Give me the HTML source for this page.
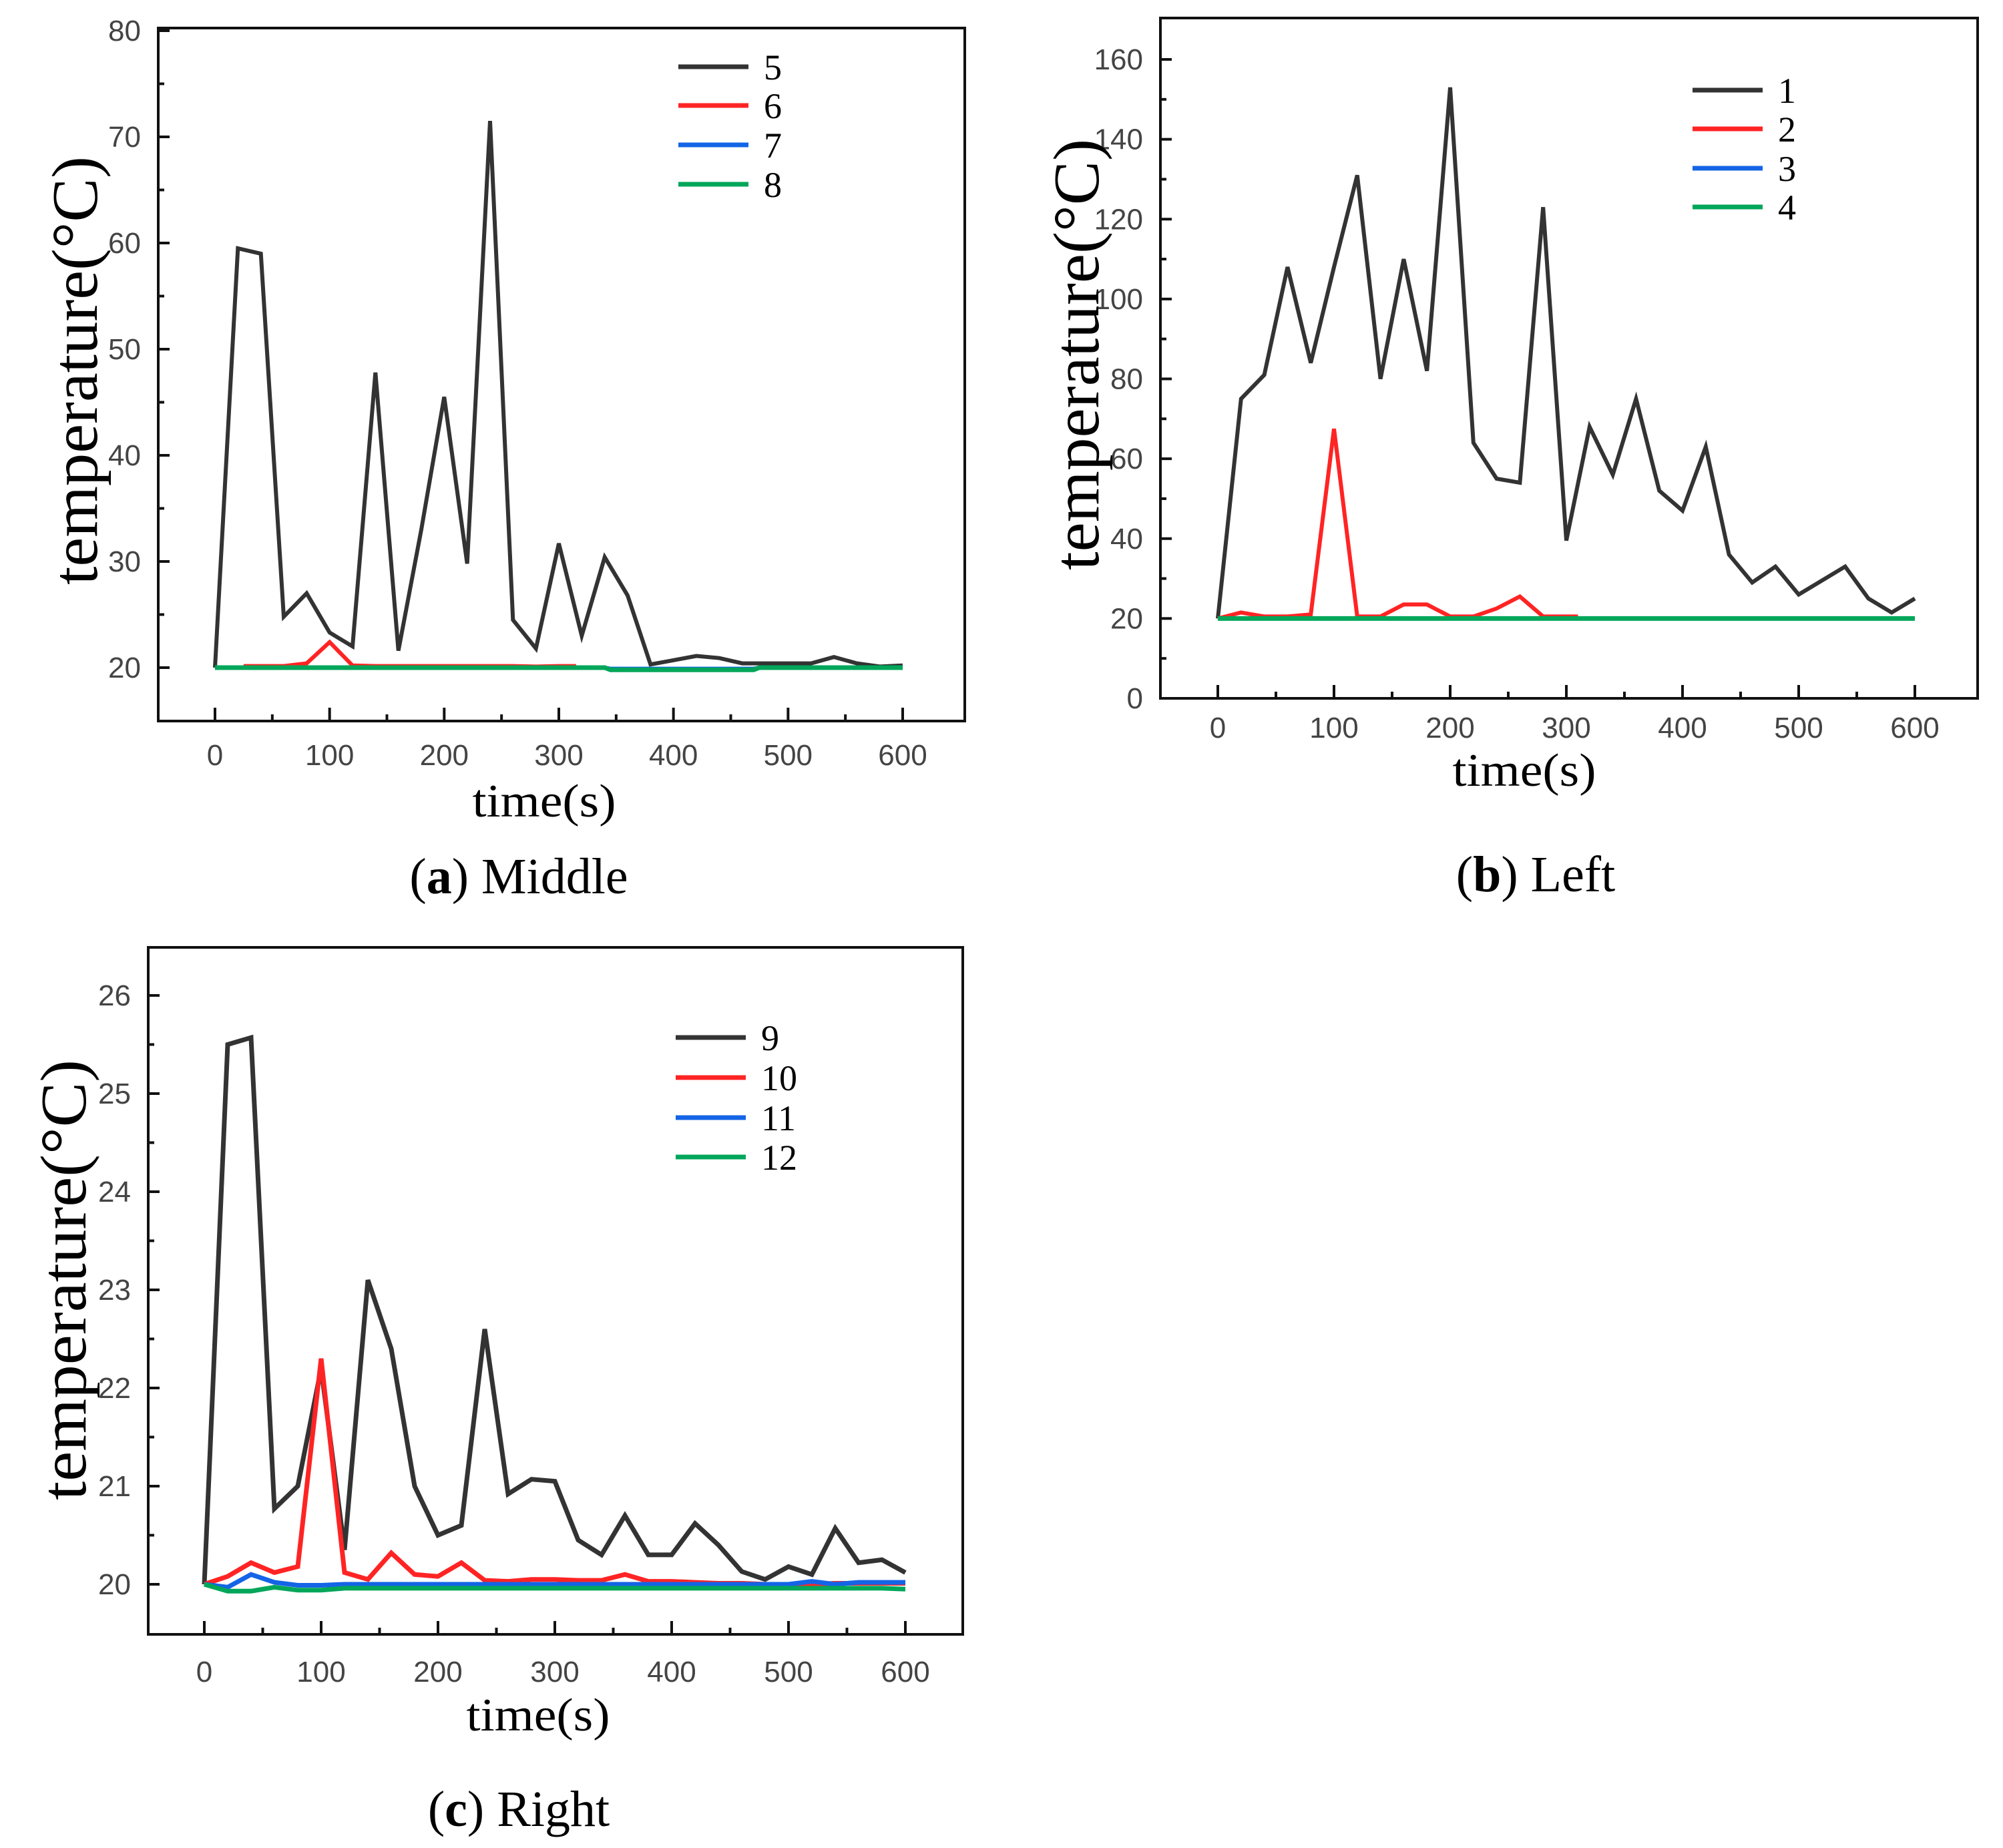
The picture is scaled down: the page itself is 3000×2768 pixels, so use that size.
<!DOCTYPE html>
<html><head><meta charset="utf-8">
<style>
html,body{margin:0;padding:0;background:#fff;}
svg{display:block;}
.tick{font-family:"Liberation Sans",sans-serif;fill:#444;}
.serif{font-family:"Liberation Serif",serif;fill:#000;}
</style></head>
<body>
<svg id="fig" width="3000" height="2768" viewBox="0 0 3000 2768" xmlns="http://www.w3.org/2000/svg"></svg>
<script>
const timeTicks = [0,100,200,300,400,500,600];
const timeFull = [0,20,40,60,80,100,120,140,160,180,200,220,240,260,280,300,320,340,360,380,400,420,440,460,480,500,520,540,560,580,600];

const aYTicks = [20,30,40,50,60,70,80];
const aS5 = [20,59.5,59,24.8,27,23.3,22,47.8,21.6,33,45.5,29.8,71.5,24.5,21.8,31.7,23,30.4,26.8,20.3,20.7,21.1,20.9,20.4,20.4,20.4,20.4,21,20.4,20.1,20.2];
const aS6x = [25,60,80,100,120,140,160,180,200,220,240,260,280,300,315];
const aS6 = [20.15,20.15,20.4,22.4,20.2,20.15,20.15,20.15,20.15,20.15,20.15,20.15,20.1,20.15,20.15];
const aS7x = [0,340,345,470,475,600];
const aS7 = [20,20,19.9,19.9,20,20];
const aS8x = [0,340,345,470,475,600];
const aS8 = [20,20,19.8,19.8,20,20];

const bYTicks = [0,20,40,60,80,100,120,140,160];
const bS1 = [20,75,81,108,84,108,131,80,110,82,153,64,55,54,123,39.5,68,56,75,52,47,63,36,29,33,26,29.5,33,25,21.5,25];
const bS2x = [0,20,40,60,80,100,120,140,160,180,200,220,240,260,280,300,310];
const bS2 = [20,21.5,20.5,20.5,21,67.5,20.5,20.5,23.5,23.5,20.5,20.5,22.5,25.5,20.5,20.5,20.5];
const bS3x = [0,600];
const bS3 = [20,20];
const bS4x = [0,600];
const bS4 = [20,20];

const cYTicks = [20,21,22,23,24,25,26];
const cS9 = [20,25.5,25.57,20.77,21,22.2,20.35,23.1,22.4,21,20.5,20.6,22.6,20.92,21.07,21.05,20.45,20.3,20.7,20.3,20.3,20.62,20.4,20.13,20.05,20.18,20.1,20.57,20.22,20.25,20.12];
const cS10 = [20,20.08,20.22,20.12,20.18,22.3,20.12,20.05,20.32,20.1,20.08,20.22,20.04,20.03,20.05,20.05,20.04,20.04,20.1,20.03,20.03,20.02,20.01,20.01,20.0,20.0,20.0,20.01,20.01,20.01,20.01];
const cS11 = [20,19.97,20.1,20.02,19.99,19.99,20,20,20,20,20,20,20,20,20,20,20,20,20,20,20,20,20,20,20,20,20.03,20,20.02,20.02,20.02];
const cS12 = [20,19.93,19.93,19.97,19.94,19.94,19.96,19.96,19.96,19.96,19.96,19.96,19.96,19.96,19.96,19.96,19.96,19.96,19.96,19.96,19.96,19.96,19.96,19.96,19.96,19.96,19.96,19.96,19.96,19.96,19.95];

const NS = "http://www.w3.org/2000/svg";
const fig = document.getElementById('fig');
function mk(tag, attrs, parent){
  const e = document.createElementNS(NS, tag);
  for (const k in attrs) e.setAttribute(k, attrs[k]);
  (parent||fig).appendChild(e);
  return e;
}
const COL = {k:'#333333', r:'#ff2424', b:'#1464e6', g:'#00a65a'};

function drawChart(cfg){
  const g = mk('g', {});
  
  
  const xs = v => cfg.x0 + (v/600)*(cfg.x600-cfg.x0);
  const ys = v => cfg.yA + (v-cfg.vA)*(cfg.yB-cfg.yA)/(cfg.vB-cfg.vA);
  const fr = mk('rect', {x:cfg.L, y:cfg.T, width:cfg.R-cfg.L, height:cfg.B-cfg.T, fill:'none', stroke:'#111', 'stroke-width':4}, g);
  
  
  const step = cfg.yTicks[1]-cfg.yTicks[0];
  for (let i=0;i<cfg.yTicks.length;i++){
    const v = cfg.yTicks[i], y = ys(v);
    mk('line', {x1:cfg.L, x2:cfg.L+17, y1:y, y2:y, stroke:'#111','stroke-width':4}, g);
    const t = mk('text', {x:cfg.L-26, y:y+15, 'text-anchor':'end', 'font-size':44, class:'tick'}, g);
    t.textContent = v;
    
    
    const my = ys(v + step/2);
    if (my > cfg.T+4) mk('line', {x1:cfg.L, x2:cfg.L+9, y1:my, y2:my, stroke:'#111','stroke-width':4}, g);
    if (i===0){ const my2 = ys(v-step/2); if (my2 < cfg.B-4) mk('line', {x1:cfg.L, x2:cfg.L+9, y1:my2, y2:my2, stroke:'#111','stroke-width':4}, g); }
  }
  for (let v=0; v<=600; v+=50){
    const x = xs(v), major = v%100===0;
    mk('line', {x1:x, x2:x, y1:cfg.B, y2:cfg.B-(major?20:10), stroke:'#111','stroke-width':4}, g);
  }
  for (const v of timeTicks){
    const t = mk('text', {x:xs(v), y:cfg.xLabY, 'text-anchor':'middle', 'font-size':44, class:'tick'}, g);
    t.textContent = v;
    
    
  }
  for (const s of cfg.series){
    const pts = s.y.map((v,i)=> xs(s.x[i]).toFixed(1)+','+ys(v).toFixed(1)).join(' ');
    const p = mk('polyline', {points:pts, fill:'none', stroke:s.c, 'stroke-width':s.w||6, 'stroke-linejoin':'miter'}, g);
    
    
  }
  cfg.series.forEach((s,i)=>{
    const ly = cfg.legY[i];
    const ln = mk('line', {x1:cfg.legX, x2:cfg.legX+105, y1:ly, y2:ly, stroke:s.c, 'stroke-width':7}, g);
    
    
    const t = mk('text', {x:cfg.legX+128, y:ly+19, 'font-size':54, class:'serif', fill:'#333'}, g);
    t.textContent = s.label;
    
    
  });
  const yt = mk('text', {x:0, y:0, 'font-size':98, class:'serif', 'text-anchor':'middle', textLength:cfg.ylabLen, lengthAdjust:'spacingAndGlyphs',
     transform:`translate(${cfg.ylabX+32},${cfg.ylabY}) rotate(-90)`}, g);
  yt.textContent = 'temperature(°C)';
  
  
  const xt = mk('text', {x:cfg.xtX, y:cfg.xtY, 'font-size':70, class:'serif', 'text-anchor':'middle', textLength:215, lengthAdjust:'spacingAndGlyphs'}, g);
  xt.textContent = 'time(s)';
  
  
  const cap = mk('text', {x:cfg.capX, y:cfg.capY, 'font-size':76, class:'serif', 'text-anchor':'middle'}, g);
  
  
  const t1 = mk('tspan', {}, cap); t1.textContent='(';
  const t2 = mk('tspan', {'font-weight':'bold'}, cap); t2.textContent=cfg.capLetter;
  const t3 = mk('tspan', {}, cap); t3.textContent=') '+cfg.capText;
}

drawChart({name:'chart-middle', L:237,R:1445,T:42,B:1080, x0:322,x600:1352, vA:20,yA:1000, vB:80,yB:46,
  yTicks:aYTicks, xLabY:1146, legX:1016, legY:[100,158,217,276],
  ylabX:113, ylabY:555, ylabLen:642, xtX:815, xtY:1223, capX:777, capY:1338, capLetter:'a', capText:'Middle',
  series:[{label:'5',c:COL.k,x:timeFull,y:aS5},{label:'6',c:COL.r,x:aS6x,y:aS6},{label:'7',c:COL.b,x:aS7x,y:aS7},{label:'8',c:COL.g,x:aS8x,y:aS8,w:7}]});

drawChart({name:'chart-left', L:1738,R:2962,T:27,B:1046, x0:1824,x600:2868, vA:0,yA:1046, vB:160,yB:89,
  yTicks:bYTicks, xLabY:1105, legX:2535, legY:[135,193,252,310],
  ylabX:1613, ylabY:531, ylabLen:646, xtX:2283, xtY:1177, capX:2300, capY:1335, capLetter:'b', capText:'Left',
  series:[{label:'1',c:COL.k,x:timeFull,y:bS1},{label:'2',c:COL.r,x:bS2x,y:bS2},{label:'3',c:COL.b,x:bS3x,y:bS3},{label:'4',c:COL.g,x:bS4x,y:bS4,w:7}]});

drawChart({name:'chart-right', L:222,R:1442,T:1419,B:2448, x0:306,x600:1356, vA:20,yA:2373, vB:26,yB:1491,
  yTicks:cYTicks, xLabY:2519, legX:1012, legY:[1554,1614,1674,1733],
  ylabX:96, ylabY:1917, ylabLen:660, xtX:806, xtY:2592, capX:777, capY:2735, capLetter:'c', capText:'Right',
  series:[{label:'9',c:COL.k,x:timeFull,y:cS9,w:7},{label:'10',c:COL.r,x:timeFull,y:cS10,w:7},{label:'11',c:COL.b,x:timeFull,y:cS11,w:7},{label:'12',c:COL.g,x:timeFull,y:cS12,w:7}]});
</script>
</body></html>
